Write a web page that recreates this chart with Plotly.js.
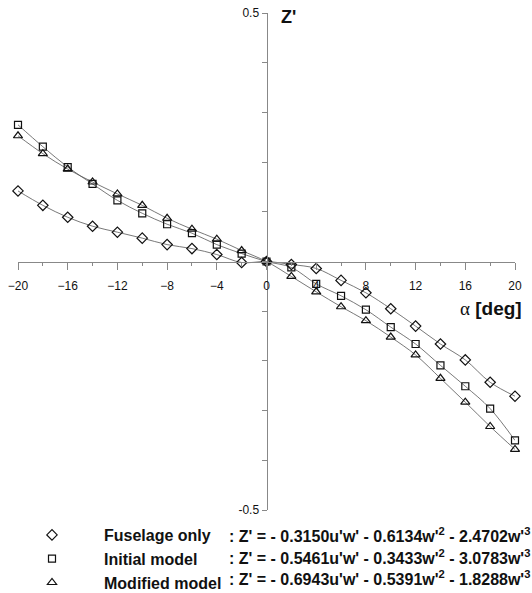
<!DOCTYPE html>
<html><head><meta charset="utf-8">
<script src="https://cdn.plot.ly/plotly-3.0.1.min.js"></script>
<style>html,body{margin:0;padding:0;background:#fff;}</style>
</head><body>
<div id="chart" style="width:532px;height:593px;"></div>
<script>
const alpha = [-20,-18,-16,-14,-12,-10,-8,-6,-4,-2,0,2,4,6,8,10,12,14,16,18,20];
const fuselageOnly = [0.142,0.113,0.089,0.071,0.059,0.047,0.034,0.026,0.014,-0.002,0,-0.006,-0.014,-0.038,-0.063,-0.095,-0.130,-0.166,-0.198,-0.243,-0.271];
const initialModel = [0.275,0.231,0.190,0.156,0.123,0.097,0.075,0.057,0.034,0.016,0,-0.012,-0.045,-0.069,-0.097,-0.132,-0.166,-0.209,-0.251,-0.296,-0.360];
const modifiedModel = [0.253,0.217,0.186,0.160,0.136,0.113,0.087,0.065,0.045,0.022,0,-0.030,-0.061,-0.091,-0.119,-0.152,-0.188,-0.235,-0.283,-0.332,-0.378];
const seriesNames = ["Fuselage only","Initial model","Modified model"];
const equations = [
  ": Z' = - 0.3150u'w' - 0.6134w'<sup>2</sup> - 2.4702w'<sup>3</sup>",
  ": Z' = - 0.5461u'w' - 0.3433w'<sup>2</sup> - 3.0783w'<sup>3</sup>",
  ": Z' = - 0.6943u'w' - 0.5391w'<sup>2</sup> - 1.8288w'<sup>3</sup>"
];
const xTickVals = [-20,-16,-12,-8,-4,0,4,8,12,16,20];
const yTickVals = [-0.5,0.5];
const yTickText = ["-0.5","0.5"];

const W = 532, H = 593, L = 18, R = 17, T = 13, B = 83;
const PW = W - L - R, PH = H - T - B;
const px2x = p => (p - L) / PW;
const px2y = p => (H - B - p) / PH;

const symbols = ["diamond-open","square-open","triangle-up-open"];
const sizes = [8,7,8];
const allY = [fuselageOnly, initialModel, modifiedModel];
const lineTraces = allY.map(ys => ({
  x: alpha, y: ys, type:'scatter', mode:'lines', showlegend:false, hoverinfo:'skip',
  line:{shape:'spline', color:'#555', width:0.8}
}));
const markerTraces = allY.map((ys,i) => ({
  x: alpha, y: ys, type:'scatter', mode:'markers',
  name: '<b>'+seriesNames[i]+'</b>',
  marker:{symbol:symbols[i], size:sizes[i], color:'#111', line:{width:1.2, color:'#111'}},
  cliponaxis:false
}));

const rowY = [535, 557, 578];
const eqAnn = equations.map((t,i)=>({
  text:'<b>'+t+'</b>', xref:'paper', yref:'paper',
  x:px2x(227), y:px2y(rowY[i]), xanchor:'left', yanchor:'middle',
  showarrow:false, font:{family:'Liberation Sans, Arial, sans-serif', size:16, color:'#111'}
}));

const layout = {
  width:W, height:H,
  margin:{l:L, r:R, t:T, b:B, autoexpand:false},
  paper_bgcolor:'#fff', plot_bgcolor:'#fff',
  font:{family:'Liberation Sans, Arial, sans-serif', color:'#111', size:12},
  showlegend:true,
  legend:{x:px2x(0), y:px2y(518), xanchor:'left', yanchor:'top',
    font:{size:16, color:'#111'}, itemwidth:94, tracegroupgap:0, bgcolor:'rgba(0,0,0,0)', borderwidth:0},
  xaxis:{range:[-20,20], anchor:'free', position:0.5, showgrid:false, zeroline:false,
    showline:true, linecolor:'#888', linewidth:1,
    tickmode:'array', tickvals:xTickVals, ticks:'outside', ticklen:7, tickcolor:'#888',
    ticklabelstandoff:6,
    minor:{dtick:2, tick0:0, ticks:'outside', ticklen:3, tickcolor:'#888'},
    tickfont:{size:12, color:'#111'}},
  yaxis:{range:[-0.5,0.5], anchor:'free', position:0.5, showgrid:false, zeroline:false,
    showline:true, linecolor:'#888', linewidth:1,
    tickmode:'array', tickvals:yTickVals, ticktext:yTickText, ticks:'outside', ticklen:5, tickcolor:'#888',
    minor:{dtick:0.1, tick0:0, ticks:'outside', ticklen:5, tickcolor:'#888'},
    tickfont:{size:12, color:'#111'}},
  annotations:[
    {text:"<span style='font-family:Liberation Serif'>α</span> <b>[deg]</b>", xref:'paper', yref:'paper',
     x:px2x(524), y:px2y(308), xanchor:'right', yanchor:'middle', showarrow:false,
     font:{size:19, color:'#111'}},
    {text:"<b>Z'</b>", xref:'paper', yref:'paper', x:px2x(279), y:px2y(17),
     xanchor:'left', yanchor:'middle', showarrow:false, font:{size:18, color:'#111'}}
  ].concat(eqAnn)
};
Plotly.newPlot('chart', lineTraces.concat(markerTraces), layout, {displayModeBar:false, staticPlot:true});
</script>
</body></html>
